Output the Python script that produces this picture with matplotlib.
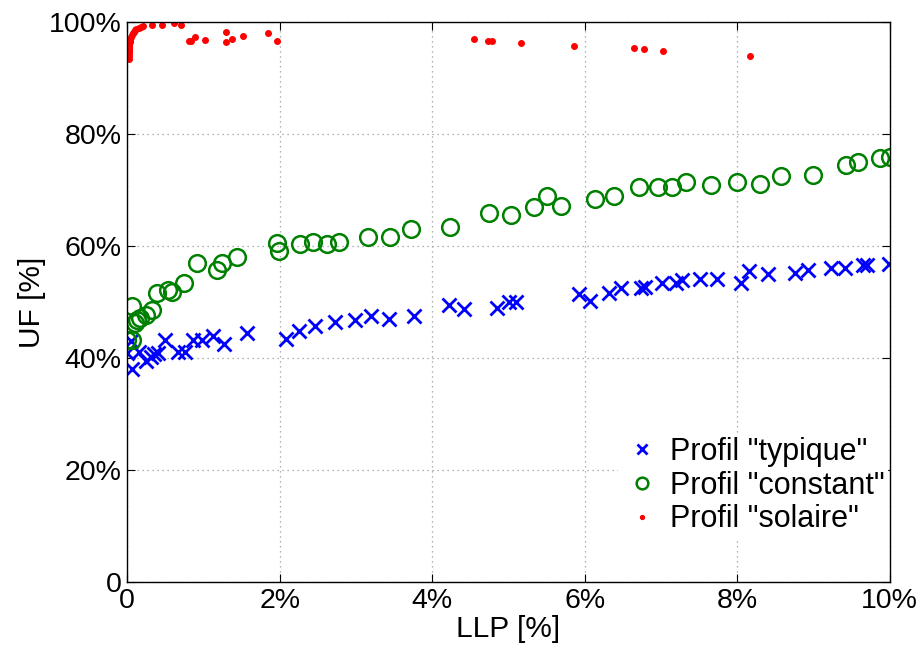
import matplotlib
matplotlib.use('Agg')
import matplotlib.pyplot as plt
import numpy as np

plt.rcParams['font.family'] = ['Liberation Sans', 'DejaVu Sans']

# LLP [%] / UF [%] for the three load profiles
typ_llp = [0.06, 0.0, 0.05, 0.15, 0.24, 0.31, 0.35, 0.41, 0.50, 0.66, 0.76, 0.86,
           0.98, 1.13, 1.27, 1.57, 2.08, 2.25, 2.46, 2.72, 2.99, 3.20, 3.43, 3.76,
           4.22, 4.42, 4.85, 5.01, 5.10, 5.93, 6.07, 6.32, 6.48, 6.74, 6.79, 7.01,
           7.20, 7.27, 7.51, 7.74, 8.05, 8.16, 8.41, 8.76, 8.93, 9.23, 9.41, 9.65,
           9.70, 9.99]
typ_uf = [38.0, 41.0, 43.0, 41.2, 39.6, 40.3, 40.8, 41.0, 43.2, 41.2, 41.2, 43.3,
          43.3, 44.0, 42.6, 44.5, 43.4, 44.8, 45.7, 46.4, 46.9, 47.5, 47.0, 47.6,
          49.6, 48.8, 49.0, 50.0, 50.0, 51.5, 50.3, 51.6, 52.5, 52.5, 52.7, 53.4,
          53.4, 54.0, 54.1, 54.1, 53.4, 55.5, 55.1, 55.2, 55.8, 56.2, 56.2, 56.7,
          56.7, 56.9]

cst_llp = [0.0, 0.06, 0.06, 0.10, 0.13, 0.17, 0.24, 0.32, 0.39, 0.54, 0.59, 0.74,
           0.92, 1.18, 1.24, 1.44, 1.96, 1.99, 2.26, 2.44, 2.62, 2.78, 3.16, 3.45,
           3.72, 4.23, 4.74, 5.03, 5.34, 5.51, 5.69, 6.13, 6.39, 6.71, 6.96, 7.14,
           7.33, 7.65, 8.00, 8.30, 8.57, 9.00, 9.43, 9.59, 9.87, 10.0]
cst_uf = [43.3, 43.3, 49.3, 46.3, 46.9, 47.2, 47.8, 48.7, 51.7, 52.2, 51.9, 53.4,
          57.1, 55.8, 57.0, 58.1, 60.5, 59.1, 60.4, 60.7, 60.4, 60.7, 61.7, 61.6,
          63.1, 63.5, 66.0, 65.5, 67.0, 69.0, 67.2, 68.4, 68.9, 70.5, 70.5, 70.5,
          71.4, 71.0, 71.4, 71.1, 72.6, 72.7, 74.5, 75.0, 75.7, 75.9]

sol_llp = [0.017, 0.018, 0.019, 0.02, 0.021, 0.022, 0.024, 0.026, 0.028, 0.031,
           0.035, 0.041, 0.048, 0.058, 0.07, 0.085, 0.1, 0.12, 0.15, 0.18, 0.21,
           0.32, 0.46, 0.61, 0.70, 0.81, 0.84, 0.89, 1.02, 1.29, 1.30, 1.38, 1.52,
           1.84, 1.97, 4.55, 4.73, 4.78, 5.17, 5.86, 6.65, 6.78, 7.03, 8.17]
sol_uf = [93.4, 94.0, 94.5, 94.8, 95.1, 95.4, 95.6, 95.9, 96.2, 96.5,
          96.8, 97.1, 97.4, 97.7, 98.0, 98.3, 98.6, 98.8, 99.0, 99.2, 99.4,
          99.6, 99.6, 99.9, 99.6, 96.7, 96.7, 97.3, 96.8, 98.3, 96.4, 97.0, 97.5,
          98.0, 96.7, 97.0, 96.7, 96.7, 96.3, 95.8, 95.4, 95.3, 94.8, 93.9]

fig = plt.figure(figsize=(9.22, 6.48), dpi=100)
ax = fig.add_axes([0.138, 0.1014, 0.827, 0.8642])

ax.plot(typ_llp, typ_uf, 'x', color='blue', ms=10, mew=2, label='Profil "typique"')
ax.plot(cst_llp, cst_uf, 'o', color='green', mfc='none', ms=12, mew=1.8,
        label='Profil "constant"')
ax.plot(sol_llp, sol_uf, '.', color='red', ms=8, label='Profil "solaire"')

ax.set_xlim(0, 10)
ax.set_ylim(0, 100)
ax.set_xticks(np.arange(0, 11, 2))
ax.set_xticklabels(['0', '2%', '4%', '6%', '8%', '10%'])
ax.set_yticks(np.arange(0, 101, 20))
ax.set_yticklabels(['0', '20%', '40%', '60%', '80%', '100%'])
ax.tick_params(direction='in', top=True, right=True, labelsize=20.5, length=6, pad=4)
ax.grid(True, linestyle=(0, (1, 3)), color='#999999', linewidth=0.9)
for s in ax.spines.values():
    s.set_linewidth(1.0)

ax.set_xlabel('LLP [%]', fontsize=21.5, labelpad=1)
ax.set_ylabel('UF [%]', fontsize=21.5, labelpad=2)

# white box, no border, sitting just inside the right spine
leg = ax.legend(loc='lower right', bbox_to_anchor=(0.997, 0.08), fontsize=22,
                frameon=True, fancybox=False, handletextpad=0.2, borderaxespad=0.0,
                borderpad=0.1, labelspacing=0.12, markerscale=0.7, handlelength=1.4)
leg.get_frame().set_edgecolor('white')
leg.get_frame().set_alpha(1.0)

plt.savefig('out.png', dpi=100)
